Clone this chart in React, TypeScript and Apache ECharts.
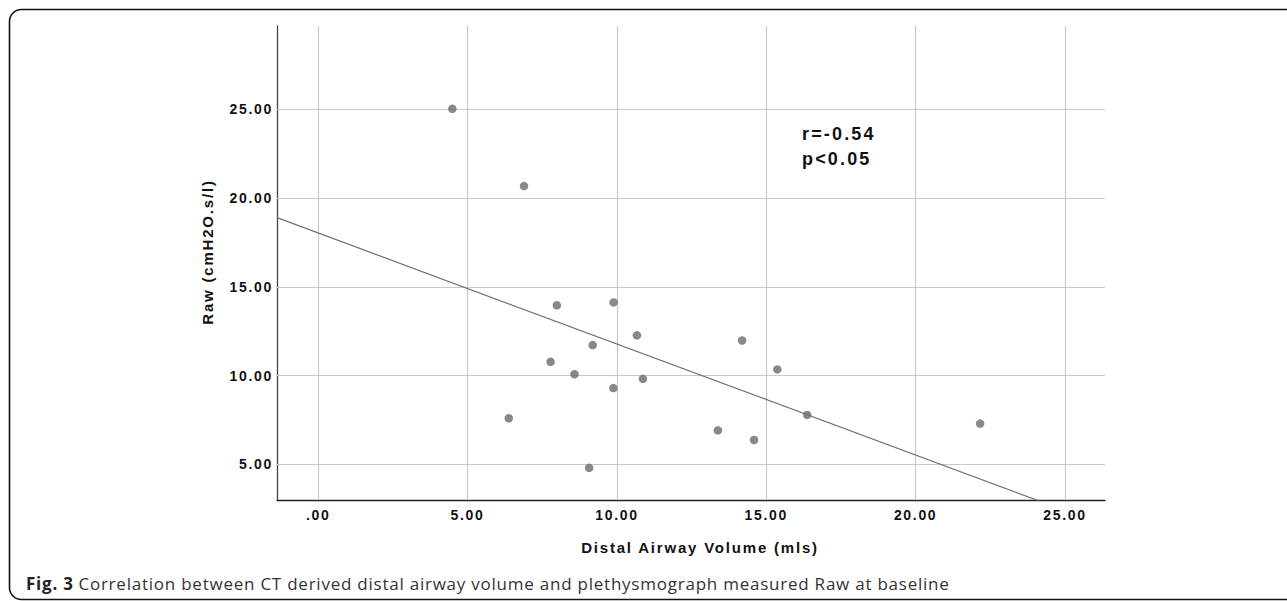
import React, { useEffect, useRef } from "react";
import * as echarts from "echarts";

// Data
const distalAirwayVolume = [4.49, 6.89, 7.99, 9.89, 10.67, 9.19, 14.19, 7.78, 8.58, 9.88, 10.87, 15.37, 6.38, 16.37, 13.38, 14.59, 22.16, 9.07];
const rawValues = [25.02, 20.67, 13.96, 14.12, 12.27, 11.72, 11.98, 10.78, 10.08, 9.30, 9.82, 10.35, 7.60, 7.79, 6.92, 6.38, 7.30, 4.81];
const xTickValues = [0, 5, 10, 15, 20, 25];
const yTickValues = [5, 10, 15, 20, 25];
const fitIntercept = 18.03;
const fitSlope = -0.625;
const xRange = [-1.38, 26.34];
const yRange = [3.0, 29.68];
const statLines = ["r=-0.54", "p<0.05"];
const xAxisTitle = "Distal Airway Volume (mls)";
const yAxisTitle = "Raw (cmH2O.s/l)";
const captionBold = "Fig. 3";
const captionText = "Correlation between CT derived distal airway volume and plethysmograph measured Raw at baseline";

const fmt = (v: number) => (Math.abs(v) < 1e-9 ? ".00" : v.toFixed(2));

export default function App() {
  const ref = useRef<HTMLDivElement>(null);
  useEffect(() => {
    document.body.style.margin = "0";
    document.body.style.overflow = "hidden";
    if (!ref.current) return;
    const chart = echarts.init(ref.current, null, { renderer: "svg" });
    const labelFont = "'Liberation Sans', Arial, sans-serif";
    const points = distalAirwayVolume.map((x, i) => [x, rawValues[i]]);
    const fitData = [
      [xRange[0], fitIntercept + fitSlope * xRange[0]],
      [xRange[1], fitIntercept + fitSlope * xRange[1]],
    ];
    const gridMarks = [
      ...xTickValues.map((v) => ({ xAxis: v })),
      ...yTickValues.map((v) => ({ yAxis: v })),
    ];
    chart.setOption({
      animation: false,
      backgroundColor: "#ffffff",
      grid: { left: 277, right: 182, top: 26, bottom: 101, containLabel: false },
      xAxis: {
        type: "value",
        min: xRange[0],
        max: xRange[1],
        name: xAxisTitle,
        nameLocation: "middle",
        nameGap: 40,
        nameTextStyle: {
          fontFamily: labelFont,
          fontWeight: "bold",
          fontSize: 15,
          color: "#111",
          padding: [0, 0, 0, 18],
        },
        axisLine: { show: true, onZero: false, lineStyle: { color: "#222", width: 1.3 } },
        axisTick: { show: false, customValues: xTickValues },
        splitLine: { show: false },
        axisLabel: {
          customValues: xTickValues,
          formatter: fmt,
          fontFamily: labelFont,
          fontWeight: "bold",
          fontSize: 14,
          color: "#111",
          margin: 8,
        },
      },
      yAxis: {
        type: "value",
        min: yRange[0],
        max: yRange[1],
        name: yAxisTitle,
        nameLocation: "middle",
        nameGap: 62,
        nameTextStyle: {
          fontFamily: labelFont,
          fontWeight: "bold",
          fontSize: 15,
          color: "#111",
          padding: [0, 0, 0, 22],
        },
        axisLine: { show: true, onZero: false, lineStyle: { color: "#444", width: 1.3 } },
        axisTick: { show: false, customValues: yTickValues },
        splitLine: { show: false },
        axisLabel: {
          customValues: yTickValues,
          formatter: fmt,
          fontFamily: labelFont,
          fontWeight: "bold",
          fontSize: 14,
          color: "#111",
          margin: 4,
        },
      },
      series: [
        {
          type: "line",
          data: fitData,
          symbol: "none",
          silent: true,
          z: 2,
          lineStyle: { color: "#6f6f6f", width: 1.2 },
          markLine: {
            z: 1,
            silent: true,
            symbol: "none",
            label: { show: false },
            lineStyle: { color: "#c9c9c9", width: 1.2, type: "solid" },
            emphasis: { disabled: true },
            data: gridMarks,
          },
        },
        {
          type: "scatter",
          data: points,
          symbol: "circle",
          symbolSize: 8.5,
          z: 3,
          itemStyle: { color: "#6a6a6a" },
        },
      ],
      graphic: [
        {
          type: "rect",
          shape: { x: 9.5, y: 9.5, width: 1300, height: 590, r: 12 },
          style: { fill: "none", stroke: "#111", lineWidth: 1.6 },
          silent: true,
        },
        {
          type: "text",
          x: 802,
          y: 121,
          style: {
            text: statLines.join("\n"),
            fontFamily: labelFont,
            fontWeight: "bold",
            fontSize: 18,
            lineHeight: 25,
            fill: "#111",
            verticalAlign: "top",
          },
        },
        {
          type: "text",
          x: 26,
          y: 583,
          style: {
            text: "{b|" + captionBold + "} {n|" + captionText + "}",
            verticalAlign: "middle",
            rich: {
              b: { fontFamily: "'Open Sans', sans-serif", fontWeight: "bold", fontSize: 17, fill: "#222", padding: [0, 6, 0, 0] },
              n: { fontFamily: "'Open Sans', sans-serif", fontWeight: "normal", fontSize: 17, fill: "#333" },
            },
          },
        },
      ],
    });
    return () => chart.dispose();
  }, []);
  return (
    <>
      <style>{`
        #root svg text { letter-spacing: 0.12em; }
        #root svg text[style*="Open Sans"], #root svg tspan[style*="Open Sans"], #root svg text[font-family*="Open Sans"] { letter-spacing: 0.045em; }
      `}</style>
      <div ref={ref} style={{ width: 1287, height: 601 }} />
    </>
  );
}
